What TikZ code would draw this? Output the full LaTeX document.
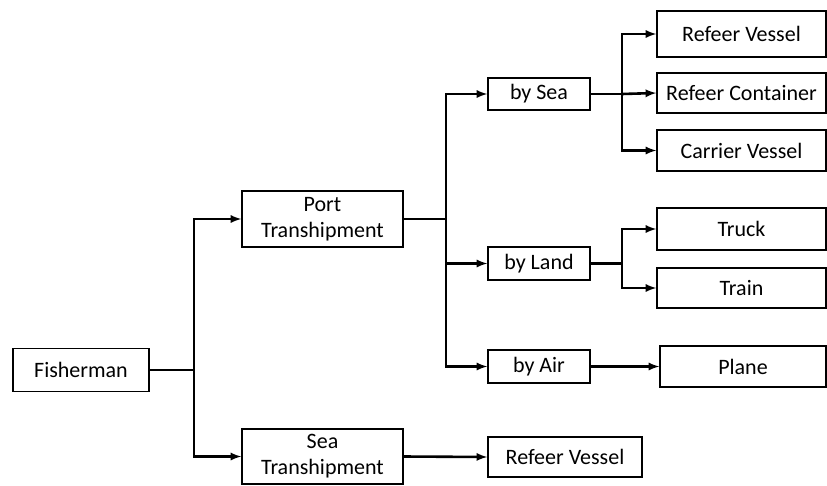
\documentclass[tikz,border=0pt]{standalone}
\usepackage{fontspec}
\setmainfont{Carlito}
\usetikzlibrary{arrows, positioning, calc}

\begin{document}
\begin{tikzpicture}[x=1pt, y=-1pt,
    box/.style={draw, line width=1.6pt, fill=white, align=center, inner sep=0pt, font=\fontsize{22}{26}\selectfont},
    conn/.style={line width=2.6pt, -latex}]
        \useasboundingbox (0,0) rectangle (827,485);

        % Origin and transhipment
        \node[box, minimum width=136pt, minimum height=43pt] (fisher) at (81, 370) {Fisherman};
        \node[box, minimum width=161pt, minimum height=56pt] (port) at (322.5, 219) {Port\\Transhipment};
        \node[box, minimum width=161pt, minimum height=55pt] (seat) at (322.5, 456.5) {Sea\\Transhipment};

        % Modes
        \node[box, minimum width=102pt, minimum height=32pt] (bysea) at (539, 94) {by Sea};
        \node[box, minimum width=102pt, minimum height=33pt] (byland) at (539, 263.5) {by Land};
        \node[box, minimum width=102pt, minimum height=33pt] (byair) at (539, 366.5) {by Air};
        \node[box, minimum width=154pt, minimum height=40pt] (refeerb) at (565, 457) {Refeer Vessel};

        % Carriers
        \node[box, minimum width=169pt, minimum height=46pt] (refeert) at (741.5, 34) {Refeer Vessel};
        \node[box, minimum width=169pt, minimum height=40pt] (contain) at (741.5, 93) {Refeer Container};
        \node[box, minimum width=169pt, minimum height=41pt] (carrier) at (741.5, 150.5) {Carrier Vessel};
        \node[box, minimum width=169pt, minimum height=42pt] (truck) at (741.5, 229) {Truck};
        \node[box, minimum width=169pt, minimum height=40pt] (train) at (741.5, 288) {Train};
        \node[box, minimum width=166pt, minimum height=41pt] (plane) at (743, 366.5) {Plane};

        % Forks
        \coordinate (f1) at (194, 370);
        \coordinate (f2) at (446, 219);
        \coordinate (f3) at (622, 94);
        \coordinate (f4) at (622, 263.5);

        % Arrows
        \draw[conn] (fisher.east) -- (f1) |- (port.west);
        \draw[conn] (f1) |- (seat.west);
        \draw[conn] (port.east) -- (f2) |- (bysea.west);
        \draw[conn] (f2) |- (byland.west);
        \draw[conn] (f2) |- (byair.west);
        \draw[conn] (seat.east) -- (refeerb.west);
        \draw[conn] (bysea.east) -- (f3) |- (refeert.west);
        \draw[conn] (f3) -- (contain.west);
        \draw[conn] (f3) |- (carrier.west);
        \draw[conn] (byland.east) -- (f4) |- (truck.west);
        \draw[conn] (f4) |- (train.west);
        \draw[conn] (byair.east) -- (plane.west);
    \end{tikzpicture}
\end{document}
